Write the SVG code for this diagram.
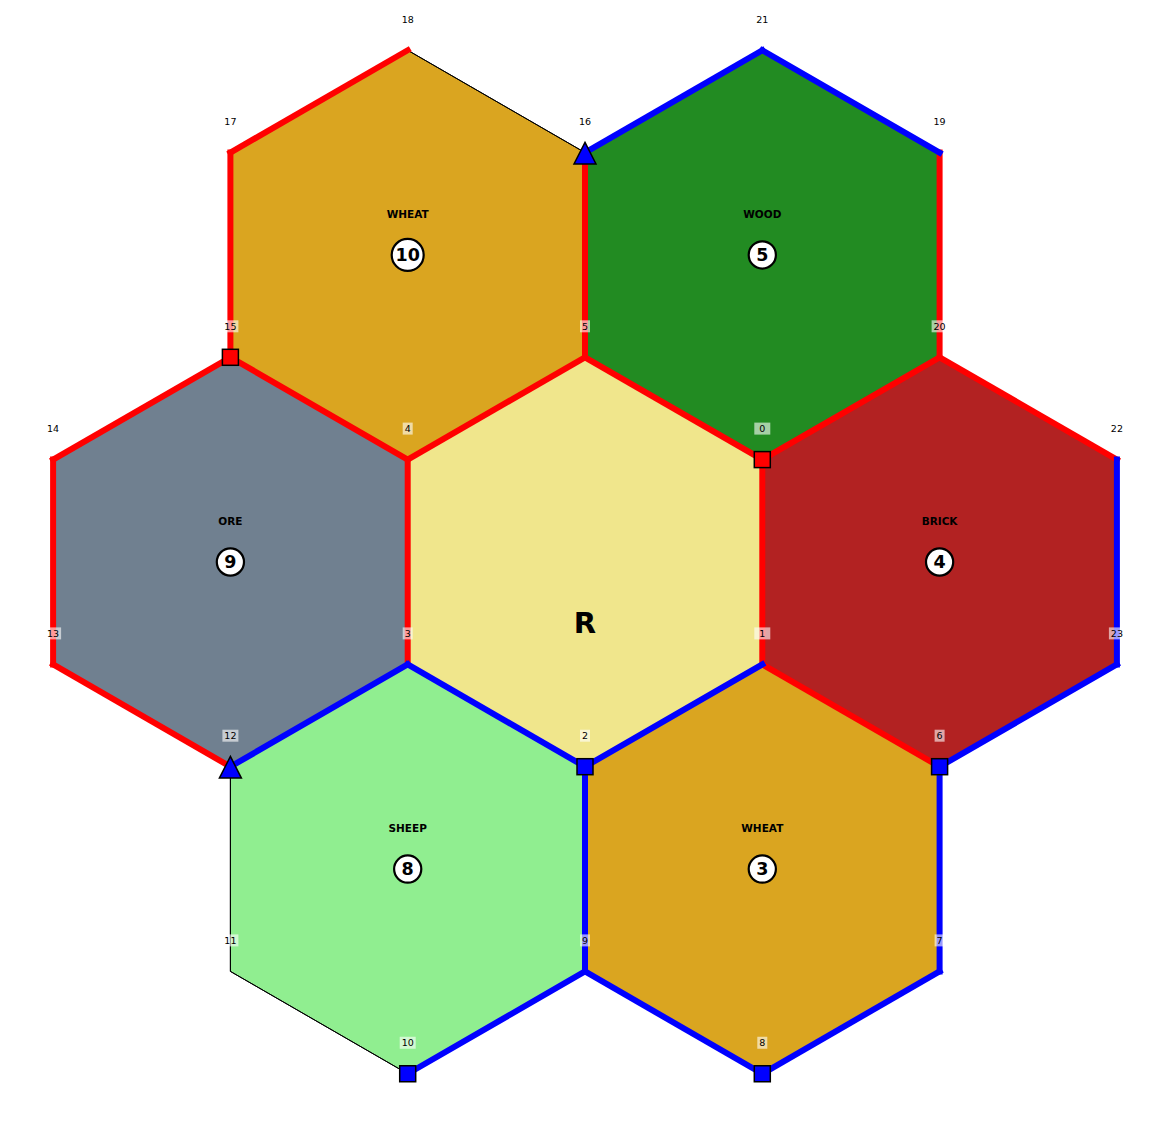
<svg xmlns="http://www.w3.org/2000/svg" width="1170" height="1125" viewBox="0 0 1170 1125">
<style>
.hex{stroke:#000;stroke-width:1}
.red{stroke:#FF0000;stroke-width:6;stroke-linecap:square;fill:none}
.blue{stroke:#0000FF;stroke-width:6;stroke-linecap:square;fill:none}
.thin{stroke:#000;stroke-width:1;fill:none}
.res{font-family:"DejaVu Sans","Liberation Sans",sans-serif;font-weight:bold;font-size:10.5px;text-anchor:middle;fill:#000}
.num{font-family:"DejaVu Sans","Liberation Sans",sans-serif;font-weight:bold;font-size:17.5px;text-anchor:middle;fill:#000}
.tok{fill:#fff;stroke:#000;stroke-width:2.2}
.vl{font-family:"DejaVu Sans","Liberation Sans",sans-serif;font-size:9.5px;text-anchor:middle;fill:#000}
.vb{fill:#fff;fill-opacity:0.6}
.sq{stroke:#000;stroke-width:1.5}
.tri{fill:#0000FF;stroke:#000;stroke-width:1.5}
.rob{font-family:"DejaVu Sans","Liberation Sans",sans-serif;font-weight:bold;font-size:29px;text-anchor:middle;fill:#000}
</style>
<rect width="1170" height="1125" fill="#fff"/>
<g id="hexes">
<g id="hex-wheat-10"><polygon class="hex" fill="#DAA520" points="407.7,50.25 585,152.6 585,357.3 407.7,459.6 230.4,357.3 230.4,152.6"/></g>
<g id="hex-wood-5"><polygon class="hex" fill="#228B22" points="762.3,50.25 939.6,152.6 939.6,357.3 762.3,459.6 585,357.3 585,152.6"/></g>
<g id="hex-ore-9"><polygon class="hex" fill="#708090" points="230.4,357.3 407.7,459.6 407.7,664.4 230.4,766.7 53.1,664.4 53.1,459.6"/></g>
<g id="hex-desert"><polygon class="hex" fill="#F0E68C" points="585,357.3 762.3,459.6 762.3,664.4 585,766.7 407.7,664.4 407.7,459.6"/></g>
<g id="hex-brick-4"><polygon class="hex" fill="#B22222" points="939.6,357.3 1116.9,459.6 1116.9,664.4 939.6,766.7 762.3,664.4 762.3,459.6"/></g>
<g id="hex-sheep-8"><polygon class="hex" fill="#90EE90" points="407.7,664.4 585,766.7 585,971.4 407.7,1073.75 230.4,971.4 230.4,766.7"/></g>
<g id="hex-wheat-3"><polygon class="hex" fill="#DAA520" points="762.3,664.4 939.6,766.7 939.6,971.4 762.3,1073.75 585,971.4 585,766.7"/></g>
</g>
<g id="connectors">
<line class="thin" x1="407.7" y1="50.25" x2="585" y2="152.6"/>
<line class="thin" x1="407.7" y1="1073.75" x2="230.4" y2="971.4"/>
<line class="thin" x1="230.4" y1="971.4" x2="230.4" y2="766.7"/>
<line class="red" x1="230.4" y1="152.6" x2="407.7" y2="50.25"/>
<line class="red" x1="230.4" y1="152.6" x2="230.4" y2="357.3"/>
<line class="red" x1="230.4" y1="357.3" x2="407.7" y2="459.6"/>
<line class="red" x1="407.7" y1="459.6" x2="585" y2="357.3"/>
<line class="red" x1="585" y1="357.3" x2="585" y2="152.6"/>
<line class="red" x1="585" y1="357.3" x2="762.3" y2="459.6"/>
<line class="red" x1="762.3" y1="459.6" x2="939.6" y2="357.3"/>
<line class="red" x1="939.6" y1="357.3" x2="939.6" y2="152.6"/>
<line class="red" x1="939.6" y1="357.3" x2="1116.9" y2="459.6"/>
<line class="red" x1="762.3" y1="459.6" x2="762.3" y2="664.4"/>
<line class="red" x1="762.3" y1="664.4" x2="939.6" y2="766.7"/>
<line class="red" x1="53.1" y1="459.6" x2="230.4" y2="357.3"/>
<line class="red" x1="53.1" y1="459.6" x2="53.1" y2="664.4"/>
<line class="red" x1="53.1" y1="664.4" x2="230.4" y2="766.7"/>
<line class="red" x1="407.7" y1="664.4" x2="407.7" y2="459.6"/>
<line class="blue" x1="585" y1="152.6" x2="762.3" y2="50.25"/>
<line class="blue" x1="762.3" y1="50.25" x2="939.6" y2="152.6"/>
<line class="blue" x1="230.4" y1="766.7" x2="407.7" y2="664.4"/>
<line class="blue" x1="407.7" y1="664.4" x2="585" y2="766.7"/>
<line class="blue" x1="585" y1="766.7" x2="762.3" y2="664.4"/>
<line class="blue" x1="585" y1="766.7" x2="585" y2="971.4"/>
<line class="blue" x1="585" y1="971.4" x2="407.7" y2="1073.75"/>
<line class="blue" x1="585" y1="971.4" x2="762.3" y2="1073.75"/>
<line class="blue" x1="762.3" y1="1073.75" x2="939.6" y2="971.4"/>
<line class="blue" x1="939.6" y1="971.4" x2="939.6" y2="766.7"/>
<line class="blue" x1="939.6" y1="766.7" x2="1116.9" y2="664.4"/>
<line class="blue" x1="1116.9" y1="664.4" x2="1116.9" y2="459.6"/>
</g>
<g id="buildings">
<rect class="sq" fill="#FF0000" x="222.4" y="349.3" width="16" height="16"/>
<rect class="sq" fill="#FF0000" x="754.3" y="451.6" width="16" height="16"/>
<rect class="sq" fill="#0000FF" x="577" y="758.7" width="16" height="16"/>
<rect class="sq" fill="#0000FF" x="931.6" y="758.7" width="16" height="16"/>
<rect class="sq" fill="#0000FF" x="399.7" y="1065.75" width="16" height="16"/>
<rect class="sq" fill="#0000FF" x="754.3" y="1065.75" width="16" height="16"/>
<polygon class="tri" points="585,142.3 596,164 574,164"/>
<polygon class="tri" points="230.4,756.4 241.4,778.1 219.4,778.1"/>
</g>
<g id="vertex-labels">
<rect class="vb" x="754.3" y="422.6" width="16" height="12"/><text class="vl" x="762.3" y="432.1">0</text>
<rect class="vb" x="754.3" y="627.4" width="16" height="12"/><text class="vl" x="762.3" y="636.9">1</text>
<rect class="vb" x="580" y="729.7" width="10" height="12"/><text class="vl" x="585" y="739.2">2</text>
<rect class="vb" x="402.7" y="627.4" width="10" height="12"/><text class="vl" x="407.7" y="636.9">3</text>
<rect class="vb" x="402.7" y="422.6" width="10" height="12"/><text class="vl" x="407.7" y="432.1">4</text>
<rect class="vb" x="580" y="320.3" width="10" height="12"/><text class="vl" x="585" y="329.8">5</text>
<rect class="vb" x="934.6" y="729.7" width="10" height="12"/><text class="vl" x="939.6" y="739.2">6</text>
<rect class="vb" x="934.6" y="934.4" width="10" height="12"/><text class="vl" x="939.6" y="943.9">7</text>
<rect class="vb" x="757.3" y="1036.75" width="10" height="12"/><text class="vl" x="762.3" y="1046.25">8</text>
<rect class="vb" x="580" y="934.4" width="10" height="12"/><text class="vl" x="585" y="943.9">9</text>
<rect class="vb" x="399.7" y="1036.75" width="16" height="12"/><text class="vl" x="407.7" y="1046.25">10</text>
<rect class="vb" x="222.4" y="934.4" width="16" height="12"/><text class="vl" x="230.4" y="943.9">11</text>
<rect class="vb" x="222.4" y="729.7" width="16" height="12"/><text class="vl" x="230.4" y="739.2">12</text>
<rect class="vb" x="45.1" y="627.4" width="16" height="12"/><text class="vl" x="53.1" y="636.9">13</text>
<rect class="vb" x="45.1" y="422.6" width="16" height="12"/><text class="vl" x="53.1" y="432.1">14</text>
<rect class="vb" x="222.4" y="320.3" width="16" height="12"/><text class="vl" x="230.4" y="329.8">15</text>
<rect class="vb" x="577" y="115.6" width="16" height="12"/><text class="vl" x="585" y="125.1">16</text>
<rect class="vb" x="222.4" y="115.6" width="16" height="12"/><text class="vl" x="230.4" y="125.1">17</text>
<rect class="vb" x="399.7" y="13.25" width="16" height="12"/><text class="vl" x="407.7" y="22.75">18</text>
<rect class="vb" x="931.6" y="115.6" width="16" height="12"/><text class="vl" x="939.6" y="125.1">19</text>
<rect class="vb" x="931.6" y="320.3" width="16" height="12"/><text class="vl" x="939.6" y="329.8">20</text>
<rect class="vb" x="754.3" y="13.25" width="16" height="12"/><text class="vl" x="762.3" y="22.75">21</text>
<rect class="vb" x="1108.9" y="422.6" width="16" height="12"/><text class="vl" x="1116.9" y="432.1">22</text>
<rect class="vb" x="1108.9" y="627.4" width="16" height="12"/><text class="vl" x="1116.9" y="636.9">23</text>
</g>
<g id="hex-labels">
<text class="res" x="407.7" y="218.3">WHEAT</text>
<circle class="tok" cx="407.7" cy="254.95" r="16"/><text class="num" x="407.7" y="261.2">10</text>
<text class="res" x="762.3" y="218.3">WOOD</text>
<circle class="tok" cx="762.3" cy="254.95" r="13.6"/><text class="num" x="762.3" y="261.2">5</text>
<text class="res" x="230.4" y="525.4">ORE</text>
<circle class="tok" cx="230.4" cy="562" r="13.6"/><text class="num" x="230.4" y="568.3">9</text>
<text class="res" x="939.6" y="525.4">BRICK</text>
<circle class="tok" cx="939.6" cy="562" r="13.6"/><text class="num" x="939.6" y="568.3">4</text>
<text class="res" x="407.7" y="832.4">SHEEP</text>
<circle class="tok" cx="407.7" cy="869.05" r="13.6"/><text class="num" x="407.7" y="875.3">8</text>
<text class="res" x="762.3" y="832.4">WHEAT</text>
<circle class="tok" cx="762.3" cy="869.05" r="13.6"/><text class="num" x="762.3" y="875.3">3</text>
<text class="rob" x="585" y="632.5">R</text>
</g>
</svg>
